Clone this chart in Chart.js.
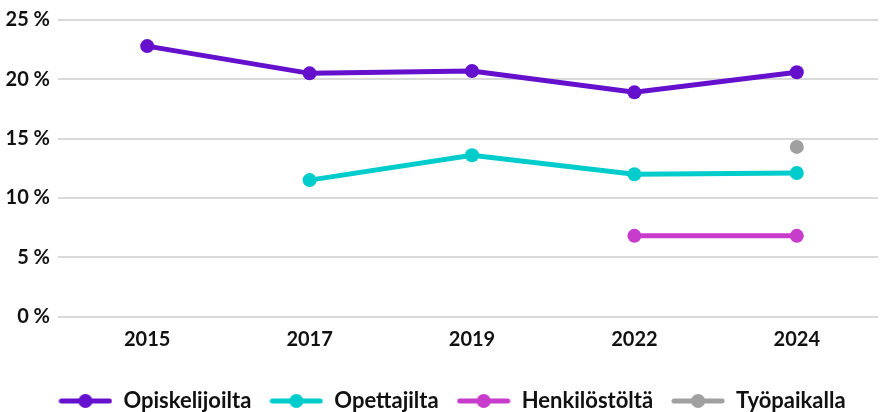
<!DOCTYPE html>
<html><head><meta charset="utf-8">
<script src="https://cdn.jsdelivr.net/npm/chart.js@4/dist/chart.umd.min.js"></script>
<style>html,body{margin:0;padding:0;background:#fff}#wrap{width:885px;height:412px}</style>
</head><body><div id="wrap"><canvas id="c" width="885" height="412"></canvas></div>
<script>
const categories = ["2015","2017","2019","2022","2024"];
const opiskelijoilta = [22.8, 20.5, 20.7, 18.9, 20.6];
const opettajilta = [null, 11.5, 13.6, 12.0, 12.1];
const henkilostolta = [null, null, null, 6.8, 6.8];
const tyopaikalla = [null, null, null, null, 14.3];
const seriesNames = ["Opiskelijoilta","Opettajilta","Henkilöstöltä","Työpaikalla"];
const colors = ["#6410cc","#00cccc","#c83ccc","#a0a0a0"];

function marker(color){
  const cv=document.createElement('canvas'); cv.width=54; cv.height=16;
  const x=cv.getContext('2d');
  x.strokeStyle=color; x.lineWidth=5; x.lineCap='round';
  x.beginPath(); x.moveTo(3,8); x.lineTo(51,8); x.stroke();
  x.fillStyle=color; x.beginPath(); x.arc(27,8,7,0,Math.PI*2); x.fill();
  return cv;
}
const markers = colors.map(marker);
const data=[opiskelijoilta,opettajilta,henkilostolta,tyopaikalla];
Chart.defaults.font.family="Lato";
const shiftLegend={id:'shiftLegend',afterLayout(chart){ if(chart.legend){chart.legend.left+=26;} }};
new Chart(document.getElementById('c'),{
  type:'line',
  plugins:[shiftLegend],
  data:{labels:categories,datasets:data.map((d,i)=>({label:seriesNames[i],data:d,borderColor:colors[i],backgroundColor:colors[i],borderWidth:5,pointRadius:7,pointHoverRadius:7,pointBorderWidth:0,tension:0}))},
  options:{responsive:false,animation:false,
    layout:{padding:{left:0,right:7,top:10,bottom:0}},
    plugins:{tooltip:{enabled:false},
      legend:{position:'bottom',maxHeight:40,labels:{usePointStyle:true,pointStyleWidth:54,boxHeight:16,padding:18,color:'#111',font:{size:22,weight:'bold'},
        generateLabels(ch){return ch.data.datasets.map((ds,i)=>({text:ds.label,fillStyle:colors[i],strokeStyle:colors[i],pointStyle:markers[i],datasetIndex:i,hidden:false,fontColor:'#111'}));}}}},
    scales:{
      x:{offset:true,grid:{display:false},border:{display:false},ticks:{color:'#111',font:{size:20,weight:'bold'},padding:3.5},afterFit:s=>{s.height+=16.5;}},
      y:{min:0,max:25,ticks:{stepSize:5,color:'#111',font:{size:20,weight:'bold'},padding:8,callback:v=>v+' %'},grid:{color:'#d9d9d9',lineWidth:2},border:{display:false},afterFit:s=>{s.width=66;}}
    }}
});
</script></body></html>
